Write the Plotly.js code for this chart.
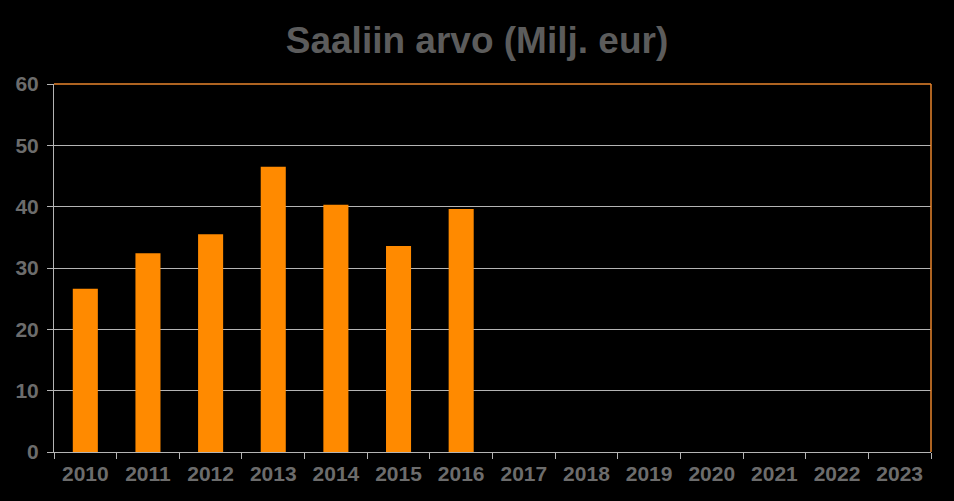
<!DOCTYPE html>
<html>
<head>
<meta charset="utf-8">
<script src="https://cdn.plot.ly/plotly-3.0.1.min.js"></script>
<style>html,body{margin:0;padding:0;background:#000;}#chart{width:954px;height:501px;}</style>
</head>
<body>
<div id="chart"></div>
<script>
const years = ["2010","2011","2012","2013","2014","2015","2016","2017","2018","2019","2020","2021","2022","2023"];
const values = [26.6, 32.4, 35.5, 46.5, 40.3, 33.6, 39.6, null, null, null, null, null, null, null];
const yTicks = [0, 10, 20, 30, 40, 50, 60];
const titleText = "Saaliin arvo (Milj. eur)";

const trace = {
  type: "bar",
  x: years,
  y: values,
  marker: {color: "#ff8a00", line: {width: 0}},
  width: 0.4,
  hoverinfo: "x+y"
};

const layout = {
  width: 954, height: 501,
  paper_bgcolor: "#000", plot_bgcolor: "#000",
  margin: {l: 54, r: 23, t: 84, b: 49},
  showlegend: false,
  title: {
    text: titleText,
    x: 0.5, xanchor: "center", xref: "container",
    y: 0.92, yanchor: "middle",
    font: {family: "Liberation Sans, Arial, sans-serif", size: 37, color: "#5c5c5c", weight: "bold"}
  },
  font: {family: "Liberation Sans, Arial, sans-serif"},
  xaxis: {
    type: "category",
    categoryorder: "array", categoryarray: years,
    range: [-0.5, 13.5],
    tickson: "boundaries",
    ticks: "outside", ticklen: 6, tickcolor: "#b4b4b4", tickwidth: 1,
    showline: true, linecolor: "#b4b4b4", linewidth: 1,
    showgrid: false, zeroline: false,
    ticklabelstandoff: 3,
    tickfont: {size: 21, color: "#6c6c6c", weight: "bold"},
    fixedrange: true
  },
  yaxis: {
    range: [0, 60],
    tickvals: yTicks,
    ticktext: yTicks.map(String),
    ticks: "outside", ticklen: 6, tickcolor: "#b4b4b4", tickwidth: 1,
    showline: true, linecolor: "#b4b4b4", linewidth: 1,
    showgrid: true, gridcolor: "#b4b4b4", gridwidth: 1,
    zeroline: false,
    ticklabelstandoff: 4,
    tickfont: {size: 21, color: "#6c6c6c", weight: "bold"},
    fixedrange: true
  },
  bargap: 0.6,
  shapes: [
    {type: "line", xref: "paper", yref: "paper", x0: 0, x1: 1, y0: 1, y1: 1, line: {color: "#e8852c", width: 1.5}, layer: "above"},
    {type: "line", xref: "paper", yref: "paper", x0: 1, x1: 1, y0: 0, y1: 1, line: {color: "#e8852c", width: 1.5}, layer: "above"}
  ]
};

Plotly.newPlot("chart", [trace], layout, {displayModeBar: false, staticPlot: true});
</script>
</body>
</html>
